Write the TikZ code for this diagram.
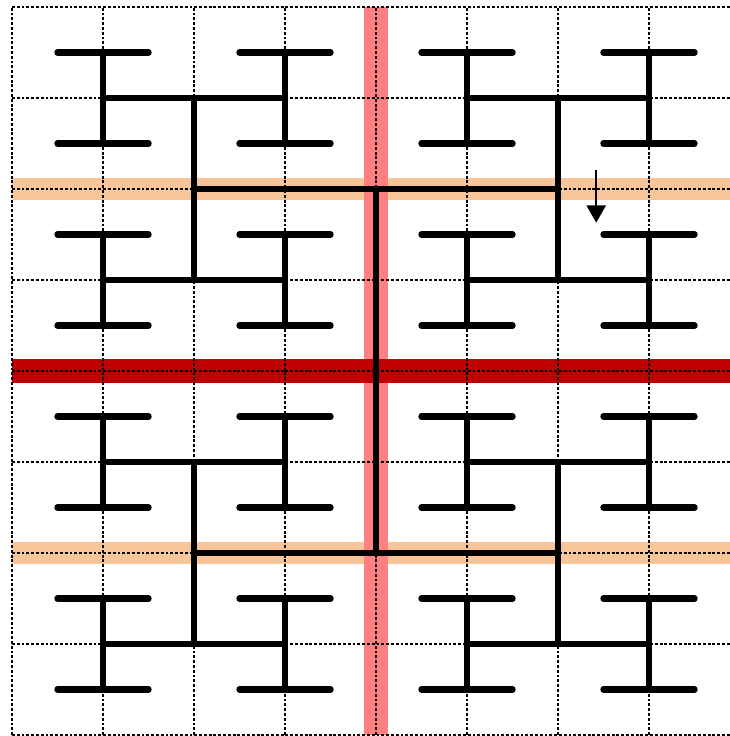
\documentclass[tikz,border=0pt]{standalone}
\usepackage{xcolor}
\usepackage{tikz}
\usetikzlibrary{arrows.meta, positioning, calc}
\definecolor{bandorange}{HTML}{F8C599}
\definecolor{bandpink}{HTML}{FF8080}
\definecolor{banddark}{HTML}{C00000}
\tikzset{
  gridline/.style={dash pattern=on 0.9pt off 0.6pt, line width=0.6pt, black},
  wire/.style={line width=2pt, black},
  leaf/.style={line width=2pt, black, line cap=round},
  cutband/.style={line width=6.9pt, bandorange},
  midband/.style={line width=7.2pt, bandpink},
  topband/.style={line width=7.5pt, banddark},
  arrow/.style={-{Triangle[length=5.4pt, width=6pt]}, line width=0.6pt},
}
\begin{document}
\begin{tikzpicture}[x=1cm, y=-1cm]
  % Frame (cropped at the right like the original)
  \useasboundingbox (-0.132,-0.077) rectangle (7.890,8.011);
  \clip (-0.132,-0.077) rectangle (7.890,8.011);
  \def\n{8}

  % Bands
  \draw[cutband] (0,2) -- (\n,2);
  \draw[cutband] (0,6) -- (\n,6);
  \draw[midband] (4,0) -- (4,\n);
  \draw[topband] (0,4) -- (\n,4);

  % Grid
  \draw[gridline] (0,0) grid (\n,\n);

  % Level 1: short bars
  \foreach \r in {0,...,7} {
    \foreach \c in {0,2,4,6} {
      \draw[leaf] (\c+0.5, \r+0.5) -- (\c+1.5, \r+0.5);
    }
  }
  % Level 2
  \foreach \r in {0,2,4,6} {
    \foreach \c in {1,3,5,7} {
      \draw[wire] (\c, \r+0.5) -- (\c, \r+1.5);
    }
  }
  % Level 3
  \foreach \r in {1,3,5,7} {
    \draw[wire] (1,\r) -- (3,\r);
    \draw[wire] (5,\r) -- (7,\r);
  }
  % Level 4
  \foreach \c in {2,6} {
    \draw[wire] (\c,1) -- (\c,3);
    \draw[wire] (\c,5) -- (\c,7);
  }
  % Level 5 and 6
  \draw[wire] (2,2) -- (6,2);
  \draw[wire] (2,6) -- (6,6);
  \draw[wire] (4,2) -- (4,6);

  % Arrow
  \coordinate (arrowtail) at (6.42,1.79);
  \coordinate (arrowtip) at (6.42,2.37);
  \draw[arrow] (arrowtail) -- (arrowtip);
\end{tikzpicture}
\end{document}
